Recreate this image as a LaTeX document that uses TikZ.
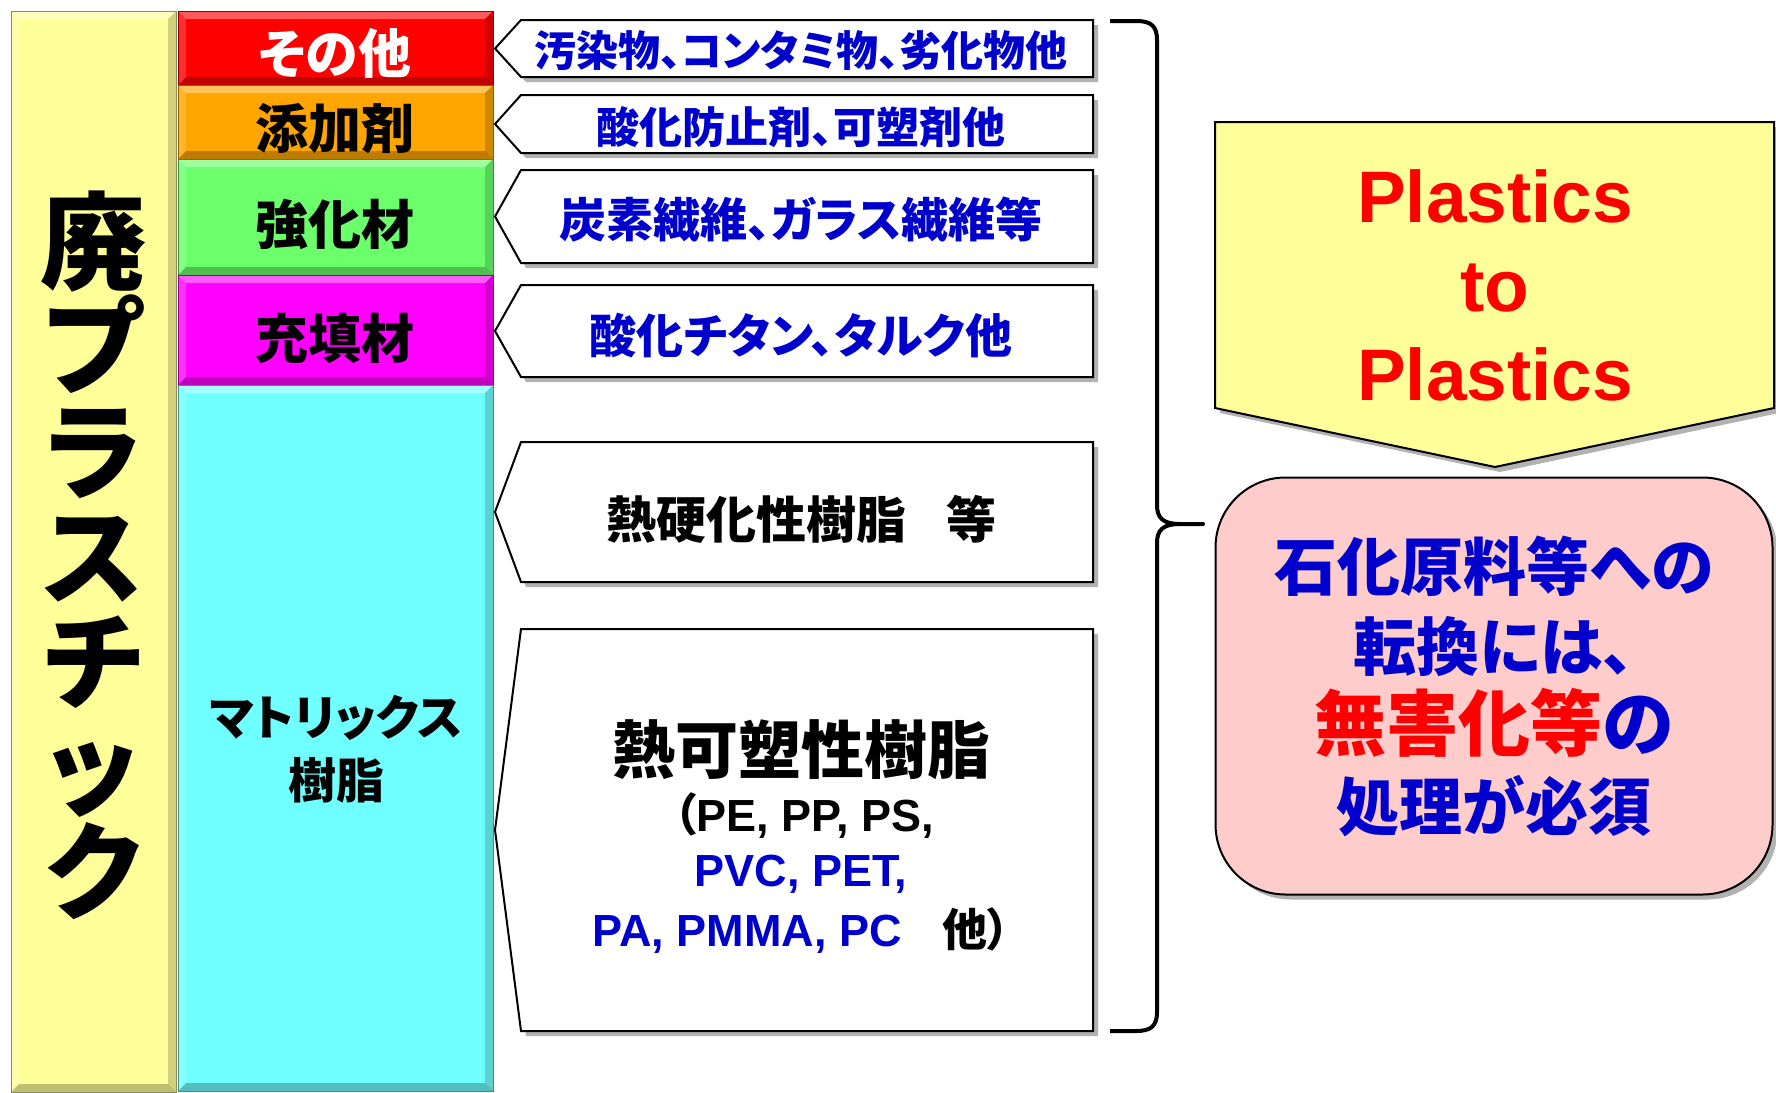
\documentclass[tikz,border=0pt]{standalone}
\usepackage{fontspec}
\setmainfont{Liberation Sans}
\newfontfamily\jp{Noto Sans CJK JP}[RawFeature=+palt]
\usetikzlibrary{shadows}
\definecolor{colYel}{HTML}{FFFF99}
\definecolor{colRed}{HTML}{FF0000}
\definecolor{colOra}{HTML}{FFA500}
\definecolor{colGrn}{HTML}{6CFF6C}
\definecolor{colMag}{HTML}{FF00FF}
\definecolor{colCya}{HTML}{70FFFF}
\definecolor{txtBlue}{HTML}{0000CC}
\definecolor{colPink}{HTML}{FFCCCC}
\newcommand\fs[1]{\fontsize{#1}{#1}\selectfont}
\tikzset{
  bevel/.style={path picture={
    \fill[white,opacity=.35] (path picture bounding box.north west) -- (path picture bounding box.north east)
      -- ([shift={(-8pt,-8pt)}]path picture bounding box.north east) -- ([shift={(8pt,-8pt)}]path picture bounding box.north west) -- cycle;
    \fill[black,opacity=.25] (path picture bounding box.south west) -- (path picture bounding box.south east)
      -- ([shift={(-8pt,8pt)}]path picture bounding box.south east) -- ([shift={(8pt,8pt)}]path picture bounding box.south west) -- cycle;
    \fill[white,opacity=.18] (path picture bounding box.north west) -- (path picture bounding box.south west)
      -- ([shift={(8pt,8pt)}]path picture bounding box.south west) -- ([shift={(8pt,-8pt)}]path picture bounding box.north west) -- cycle;
    \fill[black,opacity=.18] (path picture bounding box.north east) -- (path picture bounding box.south east)
      -- ([shift={(-8pt,8pt)}]path picture bounding box.south east) -- ([shift={(-8pt,-8pt)}]path picture bounding box.north east) -- cycle;
  }},
  panel/.style={anchor=north west, inner sep=0pt, outer sep=0pt, fill=#1, draw=#1!55!black, line width=1pt, bevel},
  shade/.style={drop shadow={shadow xshift=5pt, shadow yshift=-5pt, opacity=.3, fill=black}},
  abox/.style={draw=black, line width=2pt, fill=white, shade},
  btxt/.style={text=txtBlue, font=\jp\bfseries\fs{#1}, inner sep=0pt},
  ktxt/.style={text=black, font=\jp\bfseries\fs{#1}, inner sep=0pt},
}
\newcommand\arrowbox[2]{\draw[abox] (521,#1) -- (1093,#1) -- (1093,#2) -- (521,#2) -- (495,{(#1+#2)/2}) -- cycle;}
\begin{document}
\begin{tikzpicture}[x=1pt,y=-1pt]
\useasboundingbox (0,0) rectangle (1776,1092);
\fill[white] (0,0) rectangle (1776,1092);

% left columns
\node[panel=colYel, minimum width=165pt, minimum height=1081pt] (waste) at (11,11) {};
\node[font=\jp\bfseries\fontsize{106}{105}\selectfont, align=center, inner sep=0pt] (wastelbl) at (93,555) {廃\\プ\\ラ\\ス\\チ\\ッ\\ク};

\node[panel=colRed, minimum width=315pt, minimum height=74pt] (other) at (178,11) {};
\node[panel=colOra, minimum width=315pt, minimum height=74pt] (additive) at (178,85) {};
\node[panel=colGrn, minimum width=315pt, minimum height=116pt] (reinf) at (178,159) {};
\node[panel=colMag, minimum width=315pt, minimum height=110pt] (filler) at (178,275) {};
\node[panel=colCya, minimum width=315pt, minimum height=706pt] (matrix) at (178,385) {};
\node[text=white, font=\jp\bfseries\fs{53}, inner sep=0pt] (otherlbl) at (335,53) {その他};
\node[ktxt=53] (additivelbl) at (335,129) {添加剤};
\node[ktxt=53] (reinflbl) at (335,224) {強化材};
\node[ktxt=53] (fillerlbl) at (335,338) {充填材};
\node[font=\jp\bfseries\fontsize{48}{63}\selectfont, align=center, inner sep=0pt] (matrixlbl) at (336,749) {マトリックス\\樹脂};

% arrow boxes
\arrowbox{20}{77}
\node[btxt=42] (t1) at (801,51) {汚染物、コンタミ物、劣化物他};
\arrowbox{95}{153}
\node[btxt=43] (t2) at (801,127) {酸化防止剤、可塑剤他};
\arrowbox{170}{263}
\node[btxt=47] (t3) at (801,219) {炭素繊維、ガラス繊維等};
\arrowbox{285}{377}
\node[btxt=47] (t4) at (801,335) {酸化チタン、タルク他};
\arrowbox{442}{582}
\node[ktxt=50] (t5) at (801,519) {熱硬化性樹脂\hspace{0.8em}等};
\arrowbox{629}{1031}
\node[ktxt=63] (t6a) at (801,750) {熱可塑性樹脂};
\node[inner sep=0pt, font=\bfseries\fs{45}] (t6b) at (804,816) {{\jp （}PE, PP, PS,};
\node[inner sep=0pt, font=\bfseries\fs{45}, text=txtBlue] (t6c) at (801,874) {PVC, PET,};
\node[inner sep=0pt, font=\bfseries\fs{45}] (t6d) at (801,931) {\textcolor{txtBlue}{PA, PMMA, PC}\hspace{0.9em}{\jp 他）}};

% brace
\draw[line width=4pt, line join=round] (1110,21) -- (1136,21) .. controls (1151,21) and (1157,26) .. (1157,40)
  -- (1157,505) .. controls (1157,518) and (1163,524) .. (1180,524) -- (1203,524)
  -- (1180,524) .. controls (1163,524) and (1157,530) .. (1157,543)
  -- (1157,1012) .. controls (1157,1026) and (1151,1031) .. (1136,1031) -- (1110,1031);

% right side
\draw[draw=black, line width=2pt, fill=colYel, shade] (1215,122) -- (1774,122) -- (1774,408) -- (1495,467) -- (1215,408) -- cycle;
\node[text=colRed, font=\bfseries\fontsize{73}{89}\selectfont, align=center, inner sep=0pt] (p2p) at (1495,285) {Plastics\\to\\Plastics};

\node[draw=black, line width=2pt, fill=colPink, rounded corners=70pt, minimum width=557pt, minimum height=417pt, shade, inner sep=0pt,
  text=txtBlue, font=\jp\bfseries\fontsize{63}{80}\selectfont, align=center] (conv) at (1494,686)
  {石化原料等への\\転換には、\\{\fontsize{72}{80}\selectfont\textcolor{colRed}{無害化等}の}\\処理が必須};
\end{tikzpicture}
\end{document}
